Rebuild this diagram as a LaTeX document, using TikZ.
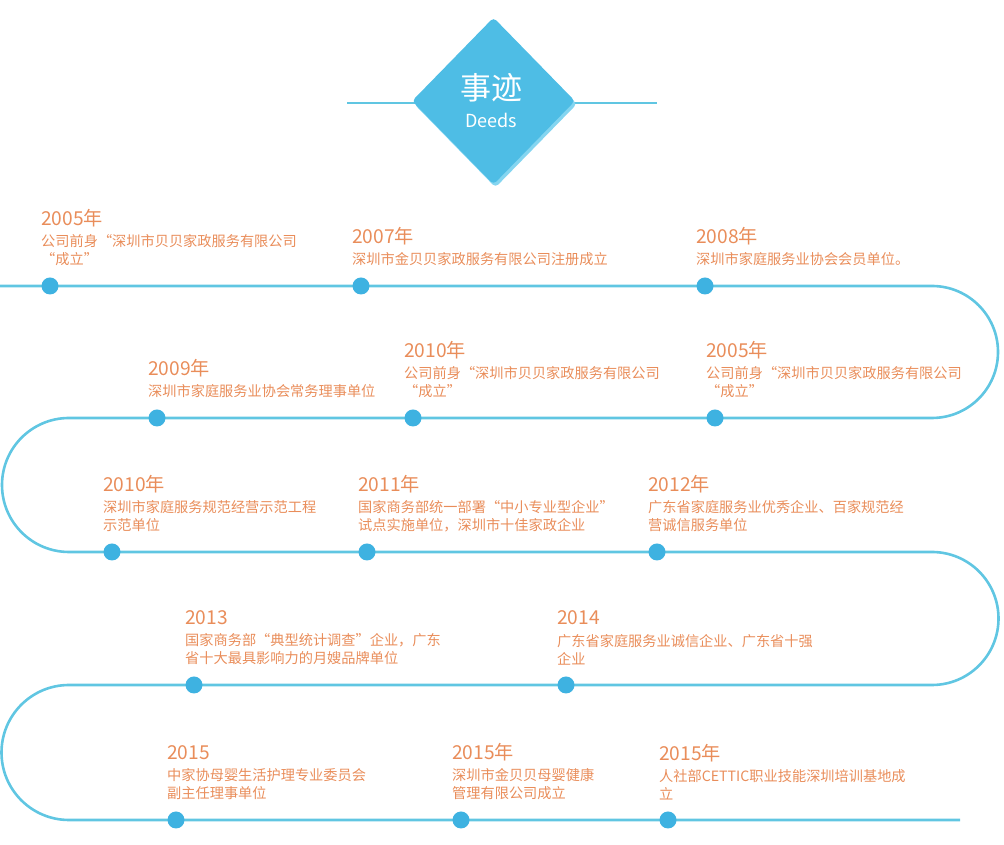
\documentclass[tikz,border=0pt]{standalone}
\usepackage{fontspec}
\setmainfont{Noto Sans CJK SC}
\usetikzlibrary{positioning,shapes.geometric}
\definecolor{trackblue}{RGB}{96,198,226}
\definecolor{dotblue}{RGB}{62,178,225}
\definecolor{deedorange}{RGB}{233,141,90}
\definecolor{diamondblue}{RGB}{78,189,229}
\definecolor{diamondedge}{RGB}{132,213,240}
\tikzset{%
    track/.style={line width=2.6pt,trackblue},
    dot/.style={circle,fill=dotblue,minimum size=17pt,inner sep=0pt},
    year/.style={font=\fontsize{19.2}{21}\selectfont,deedorange,inner sep=0pt,anchor=base west},
    desc/.style={font=\fontsize{14.2}{18}\selectfont,deedorange,inner sep=0pt,align=left,anchor=south west},
    badge/.style={diamond,aspect=1,minimum width=163pt,minimum height=167pt,inner sep=0pt,rounded corners=4pt},
}

\begin{document}
\begin{tikzpicture}[x=1pt,y=1pt]
    \useasboundingbox (0,0) rectangle (1004,845);

    % header
    \coordinate (hl) at (347,742);
    \coordinate (hr) at (657,742);
    \draw[trackblue,line width=2pt] (hl) -- (hr);
    \node[badge,fill=diamondedge] (badgeshadow) at (495.5,741) {};
    \node[badge,fill=diamondblue] (badge) at (493.5,744) {};
    \node[white,font=\fontsize{31}{32}\selectfont,inner sep=0pt] (title) at (491,757) {事迹};
    \node[white,font=\fontsize{18}{20}\selectfont,inner sep=0pt,below=10pt of title] (subtitle) {Deeds};

    % track
    \draw[track] (0,559) -- (932,559) arc[start angle=90,end angle=-90,radius=66]
        -- (69,427) arc[start angle=90,end angle=270,radius=67]
        -- (932,293) arc[start angle=90,end angle=-90,radius=66.5]
        -- (69,160) arc[start angle=90,end angle=270,radius=67.5]
        -- (960,25);

    % events
    \foreach \n/\px/\py/\yr/\txt in {%
        1/50/559/2005年/{公司前身“深圳市贝贝家政服务有限公司\\“成立”},
        2/361/559/2007年/{深圳市金贝贝家政服务有限公司注册成立},
        3/705/559/2008年/{深圳市家庭服务业协会会员单位。},
        4/157/427/2009年/{深圳市家庭服务业协会常务理事单位},
        5/413/427/2010年/{公司前身“深圳市贝贝家政服务有限公司\\“成立”},
        6/715/427/2005年/{公司前身“深圳市贝贝家政服务有限公司\\“成立”},
        7/112/293/2010年/{深圳市家庭服务规范经营示范工程\\示范单位},
        8/367/293/2011年/{国家商务部统一部署“中小专业型企业”\\试点实施单位，深圳市十佳家政企业},
        9/657/293/2012年/{广东省家庭服务业优秀企业、百家规范经\\营诚信服务单位},
        10/194/160/2013/{国家商务部“典型统计调查”企业，广东\\省十大最具影响力的月嫂品牌单位},
        11/566/160/2014/{广东省家庭服务业诚信企业、广东省十强\\企业},
        12/176/25/2015/{中家协母婴生活护理专业委员会\\副主任理事单位},
        13/461/25/2015年/{深圳市金贝贝母婴健康\\管理有限公司成立},
        14/668/25/2015年/{人社部CETTIC职业技能深圳培训基地成\\立}}{
        \node[dot] (dot\n) at (\px,\py) {};
        \node[desc] (desc\n) at (\px-9,\py+20) {\txt};
        \node[year,above=9pt of desc\n.north west,anchor=base west] (year\n) {\yr};
    }

\end{tikzpicture}
\end{document}
